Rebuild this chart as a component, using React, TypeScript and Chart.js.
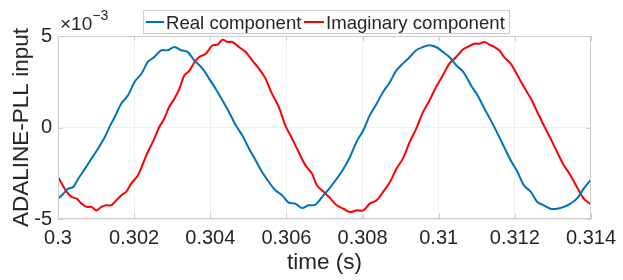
import { useEffect, useRef } from "react";
import { Chart, registerables } from "chart.js";

Chart.register(...registerables);

const FONT = "'Liberation Sans', Arial, Helvetica, sans-serif";

// x tick values (s) and y tick values (x10^-3)
const xTickValues = [0.3, 0.302, 0.304, 0.306, 0.308, 0.31, 0.312, 0.314];
const yTickValues = [-5, 0, 5];

const seriesNames = ["Real component", "Imaginary component"];
const seriesColors = ["#0072BD", "#FF0000"];

// Real component (values in x10^-3)
const realTime = [
  0.3, 0.30014, 0.30027, 0.3004, 0.30053, 0.30071, 0.30088, 0.30105, 0.30123, 0.30136,
  0.30149, 0.30166, 0.30184, 0.30201, 0.30219, 0.30236, 0.30253, 0.30271, 0.30288, 0.30306,
  0.30323, 0.3034, 0.30358, 0.3038, 0.30397, 0.30414, 0.30432, 0.30449, 0.30467, 0.30484,
  0.30502, 0.30519, 0.30536, 0.30554, 0.30571, 0.30589, 0.30606, 0.30623, 0.30641, 0.30658,
  0.30676, 0.30695, 0.30712, 0.30732, 0.3075, 0.30767, 0.30784, 0.30802, 0.30819, 0.30837,
  0.30854, 0.30872, 0.30889, 0.30906, 0.30924, 0.30941, 0.30959, 0.30976, 0.30993, 0.31011,
  0.31028, 0.31046, 0.31065, 0.31085, 0.31102, 0.3112, 0.31137, 0.31155, 0.31172, 0.31189,
  0.31207, 0.31224, 0.31242, 0.31259, 0.31276, 0.31294, 0.31311, 0.31329, 0.31346, 0.31363,
  0.31381, 0.314,
];
const realValues = [
  -3.89, -3.62, -3.34, -3.25, -2.8, -2.25, -1.7, -1.16, -0.52, 0.06,
  0.57, 1.3, 1.76, 2.49, 2.94, 3.58, 3.85, 4.22, 4.22, 4.4,
  4.22, 4.13, 3.67, 3.21, 2.67, 2.12, 1.48, 0.85, 0.12, -0.43,
  -1.16, -1.79, -2.43, -2.98, -3.43, -3.71, -4.11, -4.16, -4.4, -4.25,
  -4.22, -3.76, -3.35, -2.8, -2.25, -1.61, -0.79, -0.15, 0.66, 1.3,
  1.94, 2.49, 3.12, 3.49, 3.85, 4.22, 4.4, 4.49, 4.4, 4.13,
  3.85, 3.4, 3.03, 2.3, 1.76, 1.03, 0.39, -0.34, -1.07, -1.79,
  -2.43, -3.16, -3.52, -4.07, -4.25, -4.44, -4.44, -4.34, -4.16, -3.89,
  -3.34, -2.85,
];

// Imaginary component (values in x10^-3)
const imagTime = [
  0.3, 0.3001, 0.30023, 0.30036, 0.30049, 0.30062, 0.30075, 0.30088, 0.30101, 0.30114,
  0.30127, 0.3014, 0.30153, 0.30166, 0.30179, 0.30192, 0.3021, 0.30223, 0.30236, 0.30253,
  0.30266, 0.30279, 0.30292, 0.30306, 0.30319, 0.30332, 0.30345, 0.30358, 0.30371, 0.30388,
  0.30406, 0.30419, 0.30432, 0.30445, 0.30458, 0.30475, 0.30493, 0.3051, 0.30528, 0.30545,
  0.30562, 0.3058, 0.30597, 0.30615, 0.30632, 0.3065, 0.30667, 0.3068, 0.30697, 0.30712,
  0.30732, 0.3075, 0.30767, 0.30784, 0.30802, 0.30819, 0.30837, 0.30854, 0.30872, 0.30889,
  0.30906, 0.30924, 0.30941, 0.30959, 0.30976, 0.30993, 0.31011, 0.31028, 0.31046, 0.31063,
  0.31076, 0.31094, 0.31107, 0.3112, 0.31133, 0.31146, 0.31159, 0.31172, 0.31189, 0.31207,
  0.31224, 0.31242, 0.31259, 0.31276, 0.31294, 0.31311, 0.31329, 0.31346, 0.31363, 0.31381,
  0.314,
];
const imagValues = [
  -2.7, -3.07, -3.52, -3.8, -3.89, -4.16, -4.34, -4.34, -4.53, -4.34,
  -4.25, -4.25, -3.98, -3.71, -3.52, -3.07, -2.61, -1.98, -1.34, -0.61,
  0.03, 0.48, 1.12, 1.58, 2.12, 2.85, 3.1, 3.55, 3.85, 4.03,
  4.49, 4.53, 4.8, 4.67, 4.67, 4.4, 4.13, 3.67, 3.21, 2.67,
  1.85, 1.12, 0.12, -0.61, -1.34, -2.07, -2.52, -3.16, -3.5, -3.8,
  -4.25, -4.44, -4.62, -4.53, -4.53, -4.16, -3.98, -3.52, -2.98, -2.25,
  -1.7, -0.79, -0.06, 0.85, 1.48, 2.21, 2.85, 3.49, 3.85, 4.25,
  4.4, 4.58, 4.58, 4.67, 4.53, 4.4, 4.22, 3.85, 3.49, 2.85,
  2.21, 1.58, 0.85, 0.12, -0.61, -1.34, -2.07, -2.61, -3.25, -3.89,
  -4.2,
];

const BORDER = "#cdcdcd";
const TEXT = "#262626";

const framePlugin = {
  id: "frame",
  afterDatasetsDraw(chart: any) {
    const { ctx, chartArea: a, scales } = chart;
    ctx.save();
    ctx.strokeStyle = BORDER;
    ctx.lineWidth = 1;
    ctx.strokeRect(Math.round(a.left) + 0.5, Math.round(a.top) + 0.5, Math.round(a.right - a.left) - 1, Math.round(a.bottom - a.top) - 1);
    const tl = 5;
    ctx.beginPath();
    for (const v of xTickValues) {
      const x = Math.round(scales.x.getPixelForValue(v)) + 0.5;
      ctx.moveTo(x, a.bottom);
      ctx.lineTo(x, a.bottom - tl);
      ctx.moveTo(x, a.top);
      ctx.lineTo(x, a.top + tl);
    }
    for (const v of yTickValues) {
      const y = Math.round(scales.y.getPixelForValue(v)) + 0.5;
      ctx.moveTo(a.left, y);
      ctx.lineTo(a.left + tl, y);
      ctx.moveTo(a.right, y);
      ctx.lineTo(a.right - tl, y);
    }
    ctx.stroke();
    ctx.restore();
  },
  afterDraw(chart: any) {
    const { ctx, chartArea: a } = chart;
    ctx.save();
    // exponent label
    ctx.fillStyle = TEXT;
    ctx.textBaseline = "alphabetic";
    ctx.textAlign = "left";
    ctx.font = `19px ${FONT}`;
    ctx.fillText("\u00D710", a.left + 2, 30);
    const w = ctx.measureText("\u00D710").width;
    ctx.font = `14px ${FONT}`;
    ctx.fillText("\u22123", a.left + 2 + w, 20);

    // legend
    const bx = 143.5, by = 10.5, bw = 366, bh = 23;
    ctx.fillStyle = "#ffffff";
    ctx.fillRect(bx, by, bw, bh);
    ctx.strokeStyle = BORDER;
    ctx.lineWidth = 1;
    ctx.strokeRect(bx, by, bw, bh);
    ctx.font = `18.6px ${FONT}`;
    ctx.lineWidth = 2;
    const items = [
      { x1: 146, x2: 164, tx: 166 },
      { x1: 304, x2: 324, tx: 326 },
    ];
    items.forEach((it, i) => {
      ctx.strokeStyle = seriesColors[i];
      ctx.beginPath();
      ctx.moveTo(it.x1, 22);
      ctx.lineTo(it.x2, 22);
      ctx.stroke();
      ctx.fillStyle = TEXT;
      ctx.fillText(seriesNames[i], it.tx, 29);
    });
    ctx.restore();
  },
};

export default function App() {
  const ref = useRef<HTMLCanvasElement>(null);
  useEffect(() => {
    document.body.style.margin = "0";
    const chart = new Chart(ref.current!, {
      type: "line",
      data: {
        datasets: [
          {
            label: seriesNames[0],
            data: realTime.map((t, i) => ({ x: t, y: realValues[i] })),
            borderColor: seriesColors[0],
            borderWidth: 2,
            pointRadius: 0,
            tension: 0.35,
          },
          {
            label: seriesNames[1],
            data: imagTime.map((t, i) => ({ x: t, y: imagValues[i] })),
            borderColor: seriesColors[1],
            borderWidth: 2,
            pointRadius: 0,
            tension: 0.35,
          },
        ],
      },
      options: {
        animation: false,
        responsive: false,
        layout: { padding: { top: 36, right: 29, left: 0, bottom: 0 } },
        plugins: { legend: { display: false }, tooltip: { enabled: false } },
        scales: {
          x: {
            type: "linear",
            min: 0.3,
            max: 0.314,
            afterBuildTicks: (s: any) => {
              s.ticks = xTickValues.map((v) => ({ value: v }));
            },
            afterFit: (s: any) => {
              s.height = 61;
            },
            ticks: {
              autoSkip: false,
              maxRotation: 0,
              padding: 7,
              color: TEXT,
              font: { family: FONT, size: 20 },
              callback: (v: any) => String(Number(Number(v).toFixed(3))),
            },
            grid: { color: "#efefef", drawTicks: false },
            border: { display: false },
            title: {
              display: true,
              text: "time (s)",
              color: TEXT,
              font: { family: FONT, size: 22.5 },
              padding: { top: 0, bottom: 4 },
            },
          },
          y: {
            type: "linear",
            min: -5,
            max: 5,
            afterBuildTicks: (s: any) => {
              s.ticks = yTickValues.map((v) => ({ value: v }));
            },
            afterFit: (s: any) => {
              s.width = 58;
            },
            ticks: {
              padding: 6,
              color: TEXT,
              font: { family: FONT, size: 20 },
              callback: (v: any) => String(v),
            },
            grid: { color: "#efefef", drawTicks: false },
            border: { display: false },
            title: {
              display: true,
              text: "ADALINE-PLL input",
              color: TEXT,
              font: { family: FONT, size: 22.5 },
              padding: { top: 8, bottom: 0 },
            },
          },
        },
      },
      plugins: [framePlugin],
    });
    return () => chart.destroy();
  }, []);
  return (
    <div style={{ width: 623, height: 280 }}>
      <canvas ref={ref} width={623} height={280} style={{ display: "block" }} />
    </div>
  );
}
